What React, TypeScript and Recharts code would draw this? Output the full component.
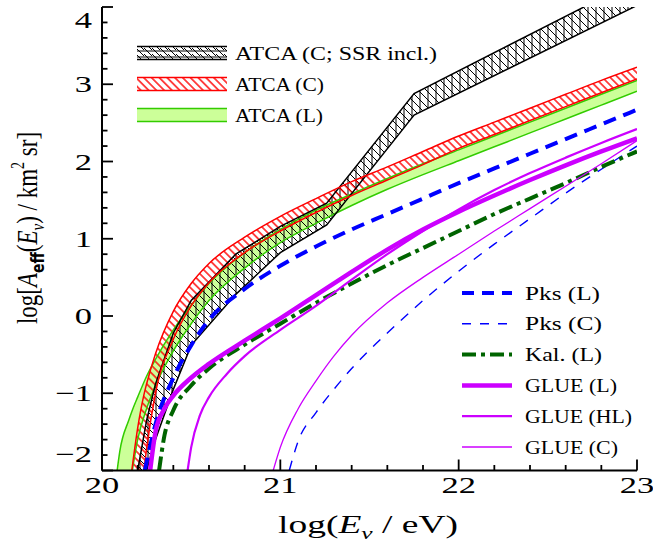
import React from 'react';
import { ComposedChart, Line, Area, XAxis, YAxis } from 'recharts';

// ---- tick labels ----
const xMajorTicks = [20, 21, 22, 23];
const xTicks = [20, 20.2, 20.4, 20.6, 20.8, 21, 21.2, 21.4, 21.6, 21.8, 22, 22.2, 22.4, 22.6, 22.8, 23];
const yMajorTicks = [-2, -1, 0, 1, 2, 3, 4];
const yTicks = [-2, -1.8, -1.6, -1.4, -1.2, -1, -0.8, -0.6, -0.4, -0.2, 0, 0.2, 0.4, 0.6, 0.8, 1, 1.2, 1.4, 1.6, 1.8, 2, 2.2, 2.4, 2.6, 2.8, 3, 3.2, 3.4, 3.6, 3.8, 4];

// ---- ATCA (C) band ----
const redX = [20.167, 20.2, 20.235, 20.25, 20.3, 20.4, 20.5, 20.6, 20.8, 21.0, 21.2, 21.4, 21.6, 21.8, 22.0, 22.2, 22.4, 22.6, 22.8, 23.0];
const redHi = [-2.0, -1.45, -1.02, -0.88, -0.49, 0.06, 0.42, 0.68, 1.02, 1.29, 1.52, 1.74, 1.93, 2.13, 2.33, 2.51, 2.69, 2.87, 3.05, 3.22];
const redLo = [-3.0, -2.45, -2.0, -1.72, -1.0, -0.3, 0.13, 0.43, 0.82, 1.1, 1.34, 1.56, 1.76, 1.96, 2.17, 2.35, 2.53, 2.71, 2.89, 3.07];

// ---- ATCA (L) band ----
const greenX = [20.085, 20.1, 20.15, 20.17, 20.2, 20.25, 20.3, 20.4, 20.5, 20.6, 20.8, 21.0, 21.2, 21.4, 21.6, 21.8, 22.0, 22.2, 22.4, 22.6, 22.8, 23.0];
const greenHi = [-2.0, -1.75, -1.35, -1.22, -1.05, -0.78, -0.56, -0.18, 0.14, 0.42, 0.82, 1.12, 1.37, 1.58, 1.78, 1.97, 2.15, 2.33, 2.51, 2.69, 2.87, 3.05];
const greenLo = [-3.2, -2.9, -2.3, -2.0, -1.6, -1.2, -0.9, -0.45, -0.1, 0.2, 0.62, 0.95, 1.2, 1.43, 1.64, 1.83, 2.01, 2.19, 2.37, 2.55, 2.73, 2.91];

// ---- ATCA (C; SSR incl.) band ----
const blackX = [20.2, 20.25, 20.3, 20.4, 20.5, 20.75, 21.0, 21.26, 21.75, 23.0];
const blackHi = [-2.0, -1.35, -0.88, -0.22, 0.2, 0.8, 1.16, 1.46, 2.88, 4.35];
const blackLo = [-2.6, -2.0, -1.6, -0.95, -0.38, 0.28, 0.82, 1.18, 2.6, 4.02];

// ---- curves ----
const pksLX = [20.24, 20.3, 20.4, 20.5, 20.6, 20.8, 21.0, 21.2, 21.4, 21.6, 21.8, 22.0, 22.2, 22.4, 22.6, 22.8, 23.0];
const pksLY = [-2.0, -1.4, -0.8, -0.38, -0.05, 0.35, 0.65, 0.9, 1.12, 1.32, 1.52, 1.72, 1.91, 2.1, 2.29, 2.48, 2.67];

const pksCX = [21.05, 21.1, 21.2, 21.3, 21.4, 21.5, 21.6, 21.8, 22.0, 22.2, 22.4, 22.6, 22.8, 23.0];
const pksCY = [-2.0, -1.62, -1.25, -0.95, -0.68, -0.44, -0.22, 0.2, 0.58, 0.93, 1.26, 1.59, 1.9, 2.2];

const kalX = [20.32, 20.35, 20.4, 20.5, 20.6, 20.8, 21.0, 21.2, 21.4, 21.6, 21.8, 22.0, 22.2, 22.4, 22.6, 22.8, 23.0];
const kalY = [-2.0, -1.55, -1.22, -0.9, -0.68, -0.37, -0.1, 0.17, 0.42, 0.66, 0.88, 1.1, 1.32, 1.52, 1.72, 1.93, 2.13];

const glueLX = [20.27, 20.3, 20.35, 20.4, 20.5, 20.6, 20.8, 21.0, 21.2, 21.4, 21.6, 21.8, 22.0, 22.2, 22.4, 22.6, 22.8, 23.0];
const glueLY = [-2.0, -1.5, -1.2, -1.03, -0.8, -0.62, -0.32, -0.03, 0.27, 0.57, 0.86, 1.12, 1.35, 1.56, 1.76, 1.95, 2.13, 2.3];

const glueHLX = [20.48, 20.5, 20.55, 20.6, 20.7, 20.8, 21.0, 21.2, 21.4, 21.6, 21.8, 22.0, 22.2, 22.4, 22.6, 22.8, 23.0];
const glueHLY = [-2.0, -1.7, -1.28, -1.05, -0.75, -0.52, -0.18, 0.13, 0.47, 0.8, 1.1, 1.38, 1.63, 1.85, 2.05, 2.24, 2.42];

const glueCX = [20.96, 21.0, 21.1, 21.2, 21.3, 21.4, 21.6, 21.8, 22.0, 22.2, 22.4, 22.6, 22.8, 23.0];
const glueCY = [-2.0, -1.7, -1.2, -0.84, -0.52, -0.25, 0.17, 0.5, 0.8, 1.1, 1.39, 1.68, 1.97, 2.27];

const seriesDefs: [string, number[], number[]][] = [
  ['redHi', redX, redHi], ['redLo', redX, redLo],
  ['greenHi', greenX, greenHi], ['greenLo', greenX, greenLo],
  ['blackHi', blackX, blackHi], ['blackLo', blackX, blackLo],
  ['pksL', pksLX, pksLY], ['pksC', pksCX, pksCY], ['kal', kalX, kalY],
  ['glueL', glueLX, glueLY], ['glueHL', glueHLX, glueHLY], ['glueC', glueCX, glueCY],
];

const allX = Array.from(new Set(seriesDefs.flatMap((s) => s[1]))).sort((a, b) => a - b);
const rows = allX.map((x) => {
  const r: any = { x };
  for (const [k, X, Y] of seriesDefs) {
    const i = X.indexOf(x);
    if (i >= 0) r[k] = Y[i];
  }
  return r;
});

const band = (lo: string, hi: string) => (r: any) => (r[hi] != null && r[lo] != null ? [r[lo], r[hi]] : [null, null]);

const X_DOMAIN: [number, number] = [20, 23];
const Y_DOMAIN: [number, number] = [-2, 4];

const FONT = 'Liberation Serif';
const MAGENTA = '#cc00ff';
const GREEN_EDGE = '#33cc00';
const GREEN_FILL = '#ccff99';
const DKGREEN = '#006400';
const SX = 1.5;

const MAJ = 11;
const MIN = 5.5;
const TW = 1.8;

const TickBottom = (p: any) => {
  const x = Number(p.x);
  const y = Number(p.y);
  const v = p.payload.value;
  const major = xMajorTicks.includes(v);
  const len = major ? MAJ : MIN;
  return (
    <g>
      <line x1={x} x2={x} y1={y} y2={y - len} stroke="#000" strokeWidth={TW} />
      {major && (
        <text transform={`translate(${x},${y + 22.5}) scale(${SX},1)`} textAnchor="middle" fontSize={23} fontFamily={FONT} fill="#000">
          {String(v)}
        </text>
      )}
    </g>
  );
};

const TickTop = (p: any) => {
  const x = Number(p.x);
  const y = Number(p.y);
  const len = xMajorTicks.includes(p.payload.value) ? MAJ : MIN;
  return <line x1={x} x2={x} y1={y} y2={y + len} stroke="#000" strokeWidth={TW} />;
};

const TickLeft = (p: any) => {
  const x = Number(p.x);
  const y = Number(p.y);
  const v = p.payload.value;
  const major = yMajorTicks.includes(v);
  const len = major ? MAJ : MIN;
  let shift = 0;
  if (v === yMajorTicks[yMajorTicks.length - 1]) shift = 13;
  if (v === yMajorTicks[0]) shift = -17;
  const label = v < 0 ? '\u2212' + String(Math.abs(v)) : String(v);
  return (
    <g>
      <line x1={x} x2={x + len} y1={y} y2={y} stroke="#000" strokeWidth={TW} />
      {major && (
        <text transform={`translate(${x - 10},${y + 8 + shift}) scale(${SX},1)`} textAnchor="end" fontSize={23} fontFamily={FONT} fill="#000">
          {label}
        </text>
      )}
    </g>
  );
};

const TickRight = (p: any) => {
  const x = Number(p.x);
  const y = Number(p.y);
  const len = yMajorTicks.includes(p.payload.value) ? MAJ : MIN;
  return <line x1={x} x2={x - len} y1={y} y2={y} stroke="#000" strokeWidth={TW} />;
};

const legend1 = [
  { label: 'ATCA (C; SSR incl.)', kind: 'black', len: 202 },
  { label: 'ATCA (C)', kind: 'red', len: 89 },
  { label: 'ATCA (L)', kind: 'green', len: 88 },
];

const legend2 = [
  { label: 'Pks (L)', color: '#0000ff', w: 4, dash: '12 8', len: 75 },
  { label: 'Pks (C)', color: '#0000ff', w: 1.4, dash: '9 9', len: 77 },
  { label: 'Kal. (L)', color: DKGREEN, w: 4, dash: '14 5 4 5', len: 77 },
  { label: 'GLUE (L)', color: MAGENTA, w: 4.5, dash: undefined, len: 92 },
  { label: 'GLUE (HL)', color: MAGENTA, w: 2.2, dash: undefined, len: 107 },
  { label: 'GLUE (C)', color: MAGENTA, w: 1.3, dash: undefined, len: 93 },
];

const axisLine = { stroke: '#000', strokeWidth: 2 };

function Decorations() {
  return (
    <g>
      {legend1.map((it, i) => {
        const cy = 53 + i * 31;
        const col = it.kind === 'black' ? '#000' : it.kind === 'red' ? '#ff0000' : GREEN_EDGE;
        const fill = it.kind === 'black' ? 'url(#hatchBlackLeg)' : it.kind === 'red' ? 'url(#hatchRed)' : GREEN_FILL;
        return (
          <g key={it.label}>
            <rect x={137} y={cy - 6.5} width={90} height={13} fill={fill} stroke="none" />
            <line x1={137} x2={227} y1={cy - 6.5} y2={cy - 6.5} stroke={col} strokeWidth={1.5} />
            <line x1={137} x2={227} y1={cy + 6.5} y2={cy + 6.5} stroke={col} strokeWidth={1.5} />
            <text x={235} y={cy + 6.5} fontSize={18.5} fontFamily={FONT} fill="#000" textLength={it.len} lengthAdjust="spacingAndGlyphs">
              {it.label}
            </text>
          </g>
        );
      })}
      {legend2.map((it, i) => {
        const cy = 293 + i * 30.8;
        return (
          <g key={it.label}>
            <line x1={462} x2={512} y1={cy} y2={cy} stroke={it.color} strokeWidth={it.w} strokeDasharray={it.dash} />
            <text x={525} y={cy + 6.5} fontSize={18.5} fontFamily={FONT} fill="#000" textLength={it.len} lengthAdjust="spacingAndGlyphs">
              {it.label}
            </text>
          </g>
        );
      })}
      <text transform={`translate(368,533) scale(${SX},1)`} textAnchor="middle" fontSize={25} fontFamily={FONT} fill="#000">
        log(<tspan fontStyle="italic">E</tspan>
        <tspan fontStyle="italic" fontSize={17} dy={6}>ν</tspan>
        <tspan dy={-6}> / eV)</tspan>
      </text>
      <text transform="translate(37,228) rotate(-90) scale(1,1.3)" textAnchor="middle" fontSize={23} fontFamily={FONT} fill="#000">
        log[<tspan fontStyle="italic">A</tspan>
        <tspan fontSize={14} fontWeight="bold" fontFamily="DejaVu Sans" dy={5}>eff</tspan>
        <tspan dy={-5}>(</tspan>
        <tspan fontStyle="italic">E</tspan>
        <tspan fontStyle="italic" fontSize={15} dy={5}>ν</tspan>
        <tspan dy={-5}>) / km</tspan>
        <tspan fontSize={14} dy={-10}>2</tspan>
        <tspan dy={10}> sr]</tspan>
      </text>
    </g>
  );
}

export default function App() {
  return (
    <div style={{ position: 'absolute', left: 0, top: 0, width: 653, height: 550, background: '#fff' }}>
      <ComposedChart width={653} height={550} data={rows} margin={{ top: 7, right: 16, left: 0, bottom: 0 }}>
        <defs>
          <pattern id="hatchRed" width={5.5} height={5.5} patternUnits="userSpaceOnUse" patternTransform="rotate(-45)">
            <line x1={2.75} y1={0} x2={2.75} y2={5.5} stroke="#ff0000" strokeWidth={1.4} />
          </pattern>
          <pattern id="hatchBlack" width={8} height={8} patternUnits="userSpaceOnUse">
            <path d="M0,0 L8,8 M-2,6 L2,10 M6,-2 L10,2" stroke="#000" strokeWidth={1} fill="none" />
            <line x1={4} y1={0} x2={4} y2={8} stroke="#000" strokeWidth={1} />
          </pattern>
          <pattern id="hatchBlackLeg" width={8} height={6} patternUnits="userSpaceOnUse">
            <path d="M0,0 L6,6 M-2,-2 L0,0 M6,0 L12,6" stroke="#000" strokeWidth={1} fill="none" />
            <line x1={0} y1={3} x2={8} y2={3} stroke="#000" strokeWidth={1} />
          </pattern>
        </defs>
        <XAxis dataKey="x" type="number" domain={X_DOMAIN} allowDataOverflow ticks={xTicks} interval={0} tickSize={0} tickMargin={0} tickLine={false} tick={TickBottom} height={79.5} axisLine={axisLine} />
        <XAxis xAxisId="top" orientation="top" dataKey="x" type="number" domain={X_DOMAIN} allowDataOverflow ticks={xTicks} interval={0} tickSize={0} tickMargin={0} tickLine={false} tick={TickTop} height={0} axisLine={axisLine} />
        <YAxis type="number" domain={Y_DOMAIN} allowDataOverflow ticks={yTicks} interval={0} tickSize={0} tickMargin={0} tickLine={false} tick={TickLeft} width={102} axisLine={axisLine} />
        <YAxis yAxisId="right" orientation="right" type="number" domain={Y_DOMAIN} allowDataOverflow ticks={yTicks} interval={0} tickSize={0} tickMargin={0} tickLine={false} tick={TickRight} width={0} axisLine={axisLine} />

        <Area type="monotone" dataKey={band('greenLo', 'greenHi')} fill={GREEN_FILL} fillOpacity={1} stroke="none" connectNulls isAnimationActive={false} dot={false} activeDot={false} />
        <Line type="monotone" dataKey="greenHi" stroke={GREEN_EDGE} strokeWidth={1.5} dot={false} activeDot={false} connectNulls isAnimationActive={false} />
        <Line type="monotone" dataKey="greenLo" stroke={GREEN_EDGE} strokeWidth={1.5} dot={false} activeDot={false} connectNulls isAnimationActive={false} />

        <Area type="linear" dataKey={band('blackLo', 'blackHi')} fill="url(#hatchBlack)" fillOpacity={1} stroke="none" connectNulls isAnimationActive={false} dot={false} activeDot={false} />
        <Line type="linear" dataKey="blackHi" stroke="#000" strokeWidth={1.5} dot={false} activeDot={false} connectNulls isAnimationActive={false} />
        <Line type="linear" dataKey="blackLo" stroke="#000" strokeWidth={1.5} dot={false} activeDot={false} connectNulls isAnimationActive={false} />

        <Area type="monotone" dataKey={band('redLo', 'redHi')} fill="url(#hatchRed)" fillOpacity={1} stroke="none" connectNulls isAnimationActive={false} dot={false} activeDot={false} />
        <Line type="monotone" dataKey="redHi" stroke="#ff0000" strokeWidth={1.5} dot={false} activeDot={false} connectNulls isAnimationActive={false} />
        <Line type="monotone" dataKey="redLo" stroke="#ff0000" strokeWidth={1.5} dot={false} activeDot={false} connectNulls isAnimationActive={false} />

        <Line type="monotone" dataKey="pksL" stroke="#0000ff" strokeWidth={4} strokeDasharray="13 8" dot={false} activeDot={false} connectNulls isAnimationActive={false} />
        <Line type="monotone" dataKey="pksC" stroke="#0000ff" strokeWidth={1.4} strokeDasharray="10 9" dot={false} activeDot={false} connectNulls isAnimationActive={false} />
        <Line type="monotone" dataKey="kal" stroke={DKGREEN} strokeWidth={4} strokeDasharray="14 5 4 5" dot={false} activeDot={false} connectNulls isAnimationActive={false} />
        <Line type="monotone" dataKey="glueL" stroke={MAGENTA} strokeWidth={4.5} dot={false} activeDot={false} connectNulls isAnimationActive={false} />
        <Line type="monotone" dataKey="glueHL" stroke={MAGENTA} strokeWidth={2.2} dot={false} activeDot={false} connectNulls isAnimationActive={false} />
        <Line type="monotone" dataKey="glueC" stroke={MAGENTA} strokeWidth={1.3} dot={false} activeDot={false} connectNulls isAnimationActive={false} />

        <Decorations />
      </ComposedChart>
    </div>
  );
}
